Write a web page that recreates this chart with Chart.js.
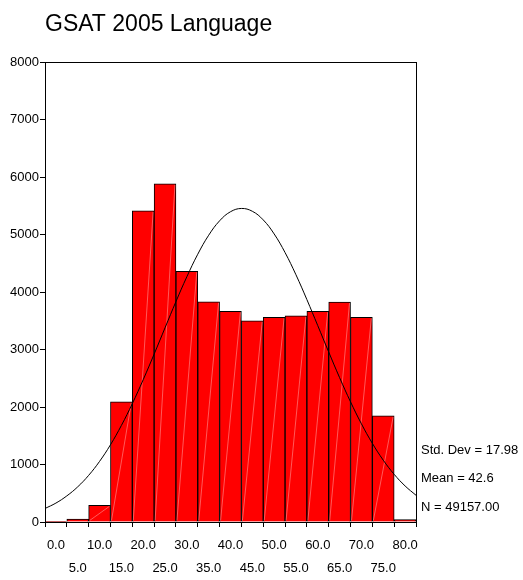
<!DOCTYPE html>
<html>
<head>
<meta charset="utf-8">
<script src="https://cdn.jsdelivr.net/npm/chart.js@4"></script>
<style>
  html, body { margin: 0; padding: 0; background: #fff; }
  #wrap { width: 523px; height: 580px; }
</style>
</head>
<body>
<div id="wrap"><canvas id="histo" width="523" height="580"></canvas></div>
<script>
// bin centres (score) and counts per bin
const binCenters = [0, 5, 10, 15, 20, 25, 30, 35, 40, 45, 50, 55, 60, 65, 70, 75, 80];
const binCounts = [5, 50, 290, 2090, 5410, 5880, 4360, 3830, 3665, 3500, 3560, 3585, 3665, 3825, 3560, 1845, 40];

// normal curve overlay
const curveX = [-2.5, 0, 2.5, 5, 7.5, 10, 12.5, 15, 17.5, 20, 22.5, 25, 27.5, 30, 32.5, 35, 37.5, 40,
  42.5, 45, 47.5, 50, 52.5, 55, 57.5, 60, 62.5, 65, 67.5, 70, 72.5, 75, 77.5, 80, 82.5];
const curveY = [235, 329, 454, 612, 811, 1054, 1343, 1679, 2058, 2475, 2919, 3377, 3833, 4265, 4657, 4987, 5238, 5396,
  5453, 5404, 5254, 5010, 4686, 4299, 3868, 3414, 2956, 2510, 2090, 1707, 1368, 1075, 829, 627, 465];

const xTicks = [0, 5, 10, 15, 20, 25, 30, 35, 40, 45, 50, 55, 60, 65, 70, 75, 80];
const yTicks = [0, 1000, 2000, 3000, 4000, 5000, 6000, 7000, 8000];
const statLines = ["Std. Dev = 17.98", "Mean = 42.6", "N = 49157.00"];

const FONT = "'Liberation Sans', Arial, sans-serif";

// kotak bingkai + teks statistik di kanan
const framePlugin = {
  id: "frame",
  afterDatasetDraw(chart, args) {
    if (args.index !== 1) return;
    // garis putih tipis diagonal di tiap batang
    const ctx = chart.ctx;
    ctx.save();
    ctx.strokeStyle = "rgba(255,255,255,0.35)";
    ctx.lineWidth = 1;
    args.meta.data.forEach((bar) => {
      const h = bar.base - bar.y;
      if (h < 4) return;
      ctx.beginPath();
      ctx.moveTo(bar.x - bar.width / 2 + 1, bar.base - 1);
      ctx.lineTo(bar.x + bar.width / 2 - 1, bar.y + 1);
      ctx.stroke();
    });
    ctx.restore();
  },
  afterDraw(chart) {
    const { ctx, chartArea } = chart;
    ctx.save();
    ctx.strokeStyle = "#000";
    ctx.lineWidth = 1;
    ctx.strokeRect(chartArea.left + 0.5, chartArea.top + 0.5,
      chartArea.right - chartArea.left, chartArea.bottom - chartArea.top);
    ctx.fillStyle = "#000";
    ctx.font = "13px " + FONT;
    ctx.textBaseline = "middle";
    const offsets = [-72, -44, -15];
    statLines.forEach((t, i) => {
      ctx.fillText(t, chartArea.right + 5, chartArea.bottom + offsets[i]);
    });
    ctx.restore();
  },
};

const ctx = document.getElementById("histo").getContext("2d");
new Chart(ctx, {
  type: "bar",
  data: {
    datasets: [
      {
        type: "line",
        data: curveX.map((x, i) => ({ x: x, y: curveY[i] })),
        borderColor: "#000",
        borderWidth: 1,
        pointRadius: 0,
        tension: 0.4,
        order: 0,
      },
      {
        type: "bar",
        data: binCenters.map((x, i) => ({ x: x, y: binCounts[i] })),
        backgroundColor: "#ff0000",
        borderColor: "#000",
        borderWidth: 1,
        barPercentage: 1,
        categoryPercentage: 1,
        order: 1,
      },
    ],
  },
  options: {
    responsive: false,
    animation: false,
    layout: { padding: { left: 0, right: 107, top: 0, bottom: 0 } },
    plugins: {
      legend: { display: false },
      tooltip: { enabled: false },
      title: {
        display: true,
        text: "GSAT 2005 Language",
        align: "start",
        fullSize: false,
        color: "#000",
        font: { family: FONT, size: 23, weight: "normal", lineHeight: 1.2 },
        padding: { top: 11, bottom: 23.4 },
      },
    },
    scales: {
      x: {
        type: "linear",
        min: -2.5,
        max: 82.5,
        offset: false,
        afterBuildTicks: (axis) => {
          axis.ticks = xTicks.map((v) => ({ value: v }));
        },
        afterFit: (scale) => {
          scale.height = 58;
        },
        grid: { drawOnChartArea: false, drawTicks: true, tickLength: 5, color: "#000" },
        border: { color: "#000" },
        ticks: {
          autoSkip: false,
          maxRotation: 0,
          color: "#000",
          padding: 7,
          font: { family: FONT, size: 13, lineHeight: 1.77 },
          callback: (v, i) => (i % 2 === 0 ? v.toFixed(1) : ["", v.toFixed(1)]),
        },
      },
      y: {
        min: 0,
        max: 8000,
        afterBuildTicks: (axis) => {
          axis.ticks = yTicks.map((v) => ({ value: v }));
        },
        afterFit: (scale) => {
          scale.width = 45;
        },
        grid: { drawOnChartArea: false, drawTicks: true, tickLength: 5, color: "#000" },
        border: { color: "#000" },
        ticks: {
          color: "#000",
          padding: 1,
          font: { family: FONT, size: 13 },
          callback: (v) => String(v),
        },
      },
    },
  },
  plugins: [framePlugin],
});
</script>
</body>
</html>
